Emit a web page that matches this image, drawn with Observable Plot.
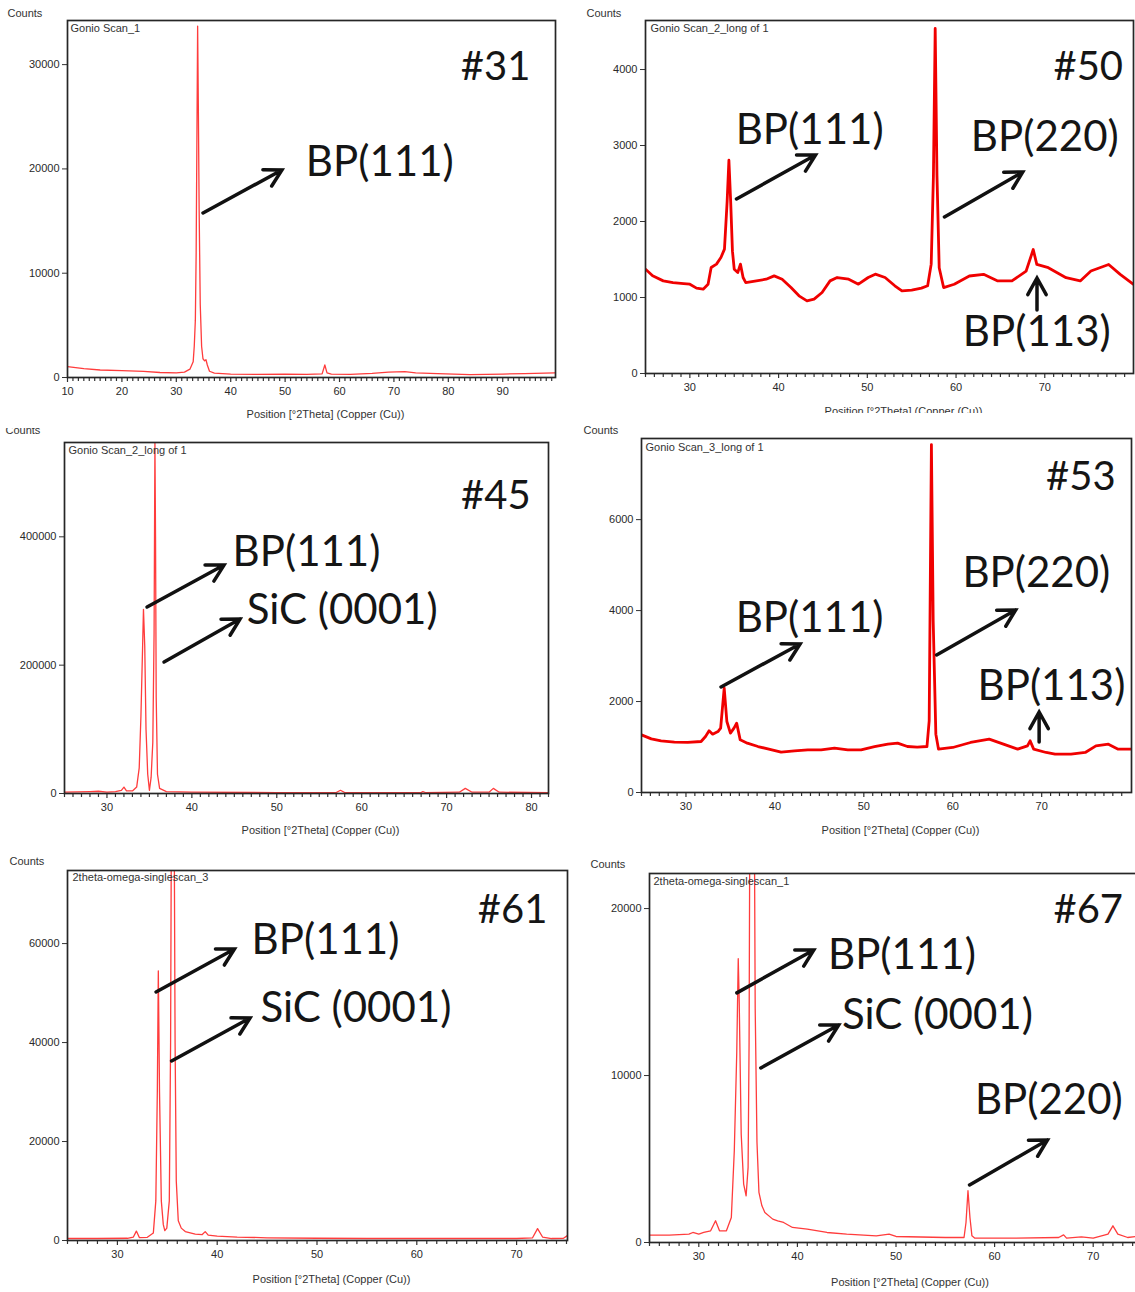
<!DOCTYPE html>
<html><head><meta charset="utf-8">
<script src="https://cdn.jsdelivr.net/npm/d3@7"></script>
<script src="https://cdn.jsdelivr.net/npm/@observablehq/plot@0.6"></script>
<style>
body{margin:0;background:#fff;}
#page{position:relative;width:1135px;height:1292px;overflow:hidden;background:#fff;}
.panel{position:absolute;overflow:hidden;}
.panel svg{overflow:hidden;display:block;max-width:none !important;}
</style></head><body><div id="page"></div>
<script>
// ---------- data: 2theta (deg) and counts ----------
const x31 = [10,13,16,20,24,27,30,31.5,32.5,33.1,33.3,33.5,33.65,33.8,33.92,34.05,34.2,34.4,34.65,34.9,35.2,35.45,35.7,36.1,37,40,45,50,54,56.8,57.3,57.7,58.5,62,66,69,72,74,78,81,84,87,90,94,99.7];
const y31 = [1050,850,720,650,580,480,450,520,800,1500,3000,5500,12000,24000,33700,26000,16000,7000,3000,1800,1600,1700,1200,600,420,330,300,330,300,350,1200,450,320,300,400,520,560,450,380,330,270,300,330,380,450];

const x50 = [25,25.8,27,28.1,29.3,30,30.75,31.5,32.05,32.4,33,33.5,33.9,34.2,34.4,34.6,34.8,35,35.4,35.7,36,36.3,37.5,38.6,39.5,40.4,41.4,42.3,43.2,44,44.9,45.8,46.6,47.9,49,50.1,50.9,52,53.1,53.9,55,56.1,56.8,57.2,57.45,57.65,57.85,58.1,58.6,59.8,61.5,63.1,64.7,66.3,67.9,68.7,69.1,70.4,72.4,74,75.2,77.2,78.5,80];
const y50 = [1373,1285,1219,1197,1184,1175,1123,1110,1175,1395,1439,1526,1636,2262,2806,2262,1610,1373,1329,1439,1263,1197,1219,1241,1285,1241,1132,1022,956,978,1066,1219,1263,1241,1175,1263,1307,1263,1154,1088,1096,1123,1154,1439,2600,4540,2610,1392,1131,1174,1283,1305,1218,1218,1348,1631,1435,1392,1261,1218,1348,1435,1305,1174];

const x45 = [25,28,29,30,31,31.7,32,32.3,33,33.5,33.8,34,34.2,34.3,34.45,34.6,34.8,35,35.2,35.4,35.55,35.65,35.72,35.8,35.95,36.2,37,40,50,57,57.5,58,67,67.2,67.5,71.5,72.2,73,75,75.5,76.2,82];
const y45 = [2000,3000,3500,2000,3000,5000,10000,4000,4000,10000,40000,120000,230000,287000,230000,100000,30000,5000,25000,80000,250000,546000,400000,150000,30000,8000,3000,2000,1500,1500,5000,1500,1500,3000,1500,2000,8000,2000,2000,8000,2000,1500];

const x53 = [25,26.1,27.2,28.7,30.2,31.7,32.2,32.6,33,33.6,33.9,34.3,34.6,35,35.4,35.7,36.1,36.9,38.1,39.2,40.7,42.2,43.7,45.2,46.7,48.2,49.7,51.2,52.7,53.8,54.9,56,57.1,57.35,57.6,57.8,58.1,58.4,60,62,64.1,65.7,67.3,68.4,68.7,69.1,70.5,71.5,73.3,74.9,76.1,77.5,78.6,80.1];
const y53 = [1268,1180,1136,1107,1100,1121,1231,1356,1283,1341,1415,2294,1561,1305,1415,1525,1158,1085,1011,960,887,916,938,938,975,938,938,1011,1063,1085,1011,997,1011,1576,7650,3775,1283,953,990,1100,1173,1063,953,1026,1136,953,880,843,843,880,1026,1063,953,953];

const x61 = [25,28,31,31.6,31.9,32.2,33,33.6,33.85,34.0,34.1,34.22,34.4,34.6,34.75,34.95,35.2,35.33,35.4,35.7,35.78,35.9,36.1,36.4,36.8,37.8,38.5,38.8,39.1,40,42,45,50,55,60,65,70,71.6,72.1,72.6,73.5,74.7,75.1];
const y61 = [400,400,450,700,1900,600,650,1500,8000,30000,54500,30000,8000,3200,2000,2500,8000,40000,80000,80000,40000,12000,4000,2500,1800,1300,1200,1800,1100,900,700,550,450,400,400,400,400,550,2400,700,400,450,1000];

const x67 = [25,27,29,29.4,30,30.5,31.2,31.7,32.1,32.8,33.3,33.6,33.85,34,34.1,34.3,34.55,34.8,35,35.1,35.2,35.6,35.72,35.9,36.1,36.4,36.7,37.5,38,38.3,38.6,39.5,41,43,45,48,49.3,50,55,56.9,57.1,57.3,57.5,57.7,58,62,66.5,67,67.3,68.8,70,71.5,72,72.5,73.5,75];
const y67 = [440,440,500,600,500,600,700,1300,700,700,1500,5500,11400,17000,14400,6500,3500,2800,4500,12000,30000,30000,14000,6000,3000,2200,1800,1400,1300,1250,1200,900,800,600,500,400,500,360,300,300,1200,3100,1500,400,260,260,300,460,260,340,260,500,1000,500,300,400];

// ---------- tick values ----------
const yTicks31 = [0,10000,20000,30000];
const yTicks50 = [0,1000,2000,3000,4000];
const yTicks45 = [0,200000,400000];
const yTicks53 = [0,2000,4000,6000];
const yTicks61 = [0,20000,40000,60000];
const yTicks67 = [0,10000,20000];
const xTicks31 = [10,20,30,40,50,60,70,80,90];
const xTicks50 = [30,40,50,60,70];
const xTicks45 = [30,40,50,60,70,80];
const xTicks53 = [30,40,50,60,70];
const xTicks61 = [30,40,50,60,70];
const xTicks67 = [30,40,50,60,70];

// ---------- annotations (data coordinates) ----------
const labels31 = [{t:"#31",x:88.7,y:29730,s:40},{t:"BP(111)",x:67.4,y:20620,s:42}];
const arrows31 = [{x1:35.0,y1:15730,x2:49.5,y2:19850}];

const labels50 = [{t:"#50",x:74.9,y:4027,s:40},{t:"BP(111)",x:43.5,y:3198,s:42},{t:"BP(220)",x:70.0,y:3106,s:42},{t:"BP(113)",x:69.1,y:540,s:42}];
const arrows50 = [{x1:35.31,y1:2290,x2:44.22,y2:2869},{x1:58.75,y1:2053,x2:67.57,y2:2645},{x1:69.18,y1:829,x2:69.18,y2:1250}];

const labels45 = [{t:"#45",x:75.8,y:462700,s:40},{t:"BP(111)",x:53.5,y:375500,s:42},{t:"SiC (0001)",x:57.7,y:285100,s:42}];
const arrows45 = [{x1:34.78,y1:289800,x2:43.85,y2:355200},{x1:36.78,y1:204100,x2:45.73,y2:271100}];

const labels53 = [{t:"#53",x:74.4,y:6927,s:40},{t:"BP(220)",x:69.4,y:4816,s:42},{t:"BP(111)",x:43.9,y:3826,s:42},{t:"BP(113)",x:71.1,y:2331,s:42}];
const arrows53 = [{x1:58.24,y1:3013,x2:67.13,y2:4002},{x1:34.0,y1:2309,x2:42.89,y2:3255},{x1:69.77,y1:1100,x2:69.77,y2:1759}];

const labels61 = [{t:"#61",x:69.6,y:66690,s:40},{t:"BP(111)",x:50.85,y:60630,s:42},{t:"SiC (0001)",x:53.9,y:46890,s:42}];
const arrows61 = [{x1:33.92,y1:50120,x2:41.78,y2:58810},{x1:35.48,y1:36180,x2:43.34,y2:44870}];

const labels67 = [{t:"#67",x:69.5,y:19890,s:40},{t:"BP(111)",x:50.6,y:17190,s:42},{t:"SiC (0001)",x:54.2,y:13600,s:42},{t:"BP(220)",x:65.5,y:8506,s:42}];
const arrows67 = [{x1:33.91,y1:14920,x2:41.71,y2:17490},{x1:36.34,y1:10420,x2:44.24,y2:13000},{x1:57.51,y1:3414,x2:65.41,y2:6110}];

const xLabel = "Position [°2Theta] (Copper (Cu))";

const panels = [
 {left:0,top:0,boxW:570,boxH:420,width:570,height:420,m:[20,15,43,67],xd:[10,99.7],yd:[0,34230],yt:yTicks31,xt:xTicks31,xs:x31,ys:y31,stroke:"#ff3c3c",sw:1.3,name:"Gonio Scan_1",nd:[3,8],cd:[-60,-7.5],xl:37,labels:labels31,arrows:arrows31},
 {left:575,top:0,boxW:560,boxH:413,width:560,height:413,m:[20,2,40,70],xd:[25,80],yd:[0,4645],yt:yTicks50,xt:xTicks50,xs:x50,ys:y50,stroke:"#f00000",sw:2.8,name:"Gonio Scan_2_long of 1",nd:[5,8],cd:[-59,-7.5],xl:38,labels:labels50,arrows:arrows50},
 {left:0,top:428,boxW:570,boxH:414,width:570,height:414,m:[14,22,49,64],xd:[25,82],yd:[0,547000],yt:yTicks45,xt:xTicks45,xs:x45,ys:y45,stroke:"#ff3c3c",sw:1.3,name:"Gonio Scan_2_long of 1",nd:[4,8],cd:[-59,-12],xl:37,labels:labels45,arrows:arrows45},
 {left:575,top:420,boxW:560,boxH:420,width:560,height:420,m:[18,4,48,66],xd:[25,80.1],yd:[0,7784],yt:yTicks53,xt:xTicks53,xs:x53,ys:y53,stroke:"#f00000",sw:2.8,name:"Gonio Scan_3_long of 1",nd:[4,9],cd:[-58,-8],xl:38,labels:labels53,arrows:arrows53},
 {left:0,top:856,boxW:570,boxH:436,width:570,height:436,m:[14,3,52,67],xd:[25,75.1],yd:[0,74770],yt:yTicks61,xt:xTicks61,xs:x61,ys:y61,stroke:"#ff3c3c",sw:1.3,name:"2theta-omega-singlescan_3",nd:[5,7],cd:[-58,-9],xl:39,labels:labels61,arrows:arrows61},
 {left:575,top:852,boxW:560,boxH:440,width:570,height:440,m:[21,3,50,74],xd:[25,75],yd:[0,22100],yt:yTicks67,xt:xTicks67,xs:x67,ys:y67,stroke:"#ff3c3c",sw:1.3,name:"2theta-omega-singlescan_1",nd:[4,8],cd:[-59,-9.5],xl:40,labels:labels67,arrows:arrows67}
];

function arrowMark(arrows) {
  return (index, scales) => {
    const g = d3.create("svg:g");
    for (const a of arrows) {
      const x1 = scales.x(a.x1), y1 = scales.y(a.y1), x2 = scales.x(a.x2), y2 = scales.y(a.y2);
      const ang = Math.atan2(y2 - y1, x2 - x1);
      const L = 19, h = 29 * Math.PI / 180;
      const d = `M${x1},${y1}L${x2},${y2}M${x2 - L*Math.cos(ang - h)},${y2 - L*Math.sin(ang - h)}L${x2},${y2}L${x2 - L*Math.cos(ang + h)},${y2 - L*Math.sin(ang + h)}`;
      g.append("path").attr("d", d).attr("fill", "none").attr("stroke", "#111")
        .attr("stroke-width", 3.5).attr("stroke-linecap", "round").attr("stroke-linejoin", "miter");
    }
    return g.node();
  };
}

const page = document.getElementById("page");
for (const p of panels) {
  const data = p.xs.map((x, i) => ({x, y: p.ys[i]}));
  const minor = d3.range(Math.ceil(p.xd[0]), p.xd[1] + 1e-9, 1).filter(v => v % 10 !== 0);
  const svg = Plot.plot({
    width: p.width, height: p.height,
    marginTop: p.m[0], marginRight: p.m[1], marginBottom: p.m[2], marginLeft: p.m[3],
    style: {fontFamily: "'Liberation Sans', Arial, sans-serif", fontSize: "11px", color: "#2a2a2a", background: "white"},
    x: {domain: p.xd},
    y: {domain: p.yd},
    marks: [
      Plot.line(data, {x: "x", y: "y", stroke: p.stroke, strokeWidth: p.sw, clip: true}),
      Plot.axisX({ticks: minor, tickSize: 4, tickFormat: () => "", label: null, stroke: "#333", strokeWidth: 1.2}),
      Plot.axisX({ticks: p.xt, tickSize: 5, tickPadding: 5, tickFormat: d => String(d), label: null, stroke: "#333", fill: "#2a2a2a", strokeWidth: 1.2}),
      Plot.axisY({ticks: p.yt, tickSize: 5, tickPadding: 3, tickFormat: d => String(d), label: null, stroke: "#333", fill: "#2a2a2a"}),
      Plot.frame({stroke: "#262626", strokeWidth: 1.7}),
      Plot.text([p.name], {frameAnchor: "top-left", textAnchor: "start", lineAnchor: "middle", dx: p.nd[0], dy: p.nd[1], fontSize: 11, fill: "#333"}),
      Plot.text(["Counts"], {frameAnchor: "top-left", textAnchor: "start", lineAnchor: "middle", dx: p.cd[0], dy: p.cd[1], fontSize: 11, fill: "#333"}),
      Plot.text([xLabel], {frameAnchor: "bottom", lineAnchor: "middle", dx: 14, dy: p.xl, fontSize: 11, fill: "#333"}),
      Plot.text(p.labels, {x: "x", y: "y", text: "t", fontSize: d => d.s, fontFamily: "Lato, 'Open Sans', sans-serif", fill: "#151515"}),
      arrowMark(p.arrows)
    ]
  });
  const div = document.createElement("div");
  div.className = "panel";
  div.style.left = p.left + "px"; div.style.top = p.top + "px";
  div.style.width = p.boxW + "px"; div.style.height = p.boxH + "px";
  div.appendChild(svg);
  page.appendChild(div);
}
</script>
</body></html>
